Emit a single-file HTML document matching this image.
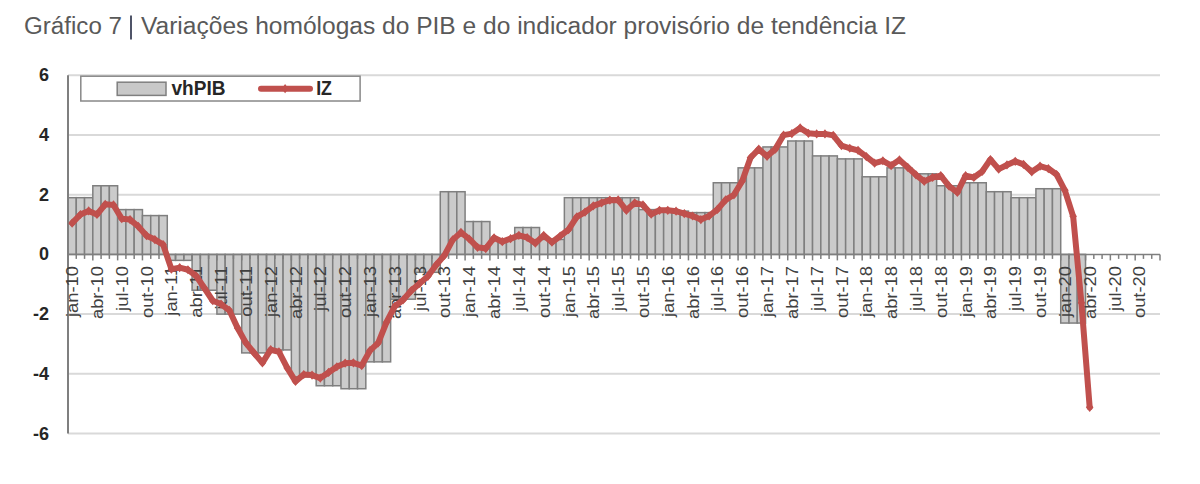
<!DOCTYPE html><html><head><meta charset="utf-8"><style>html,body{margin:0;padding:0;background:#fff;}body{width:1200px;height:484px;overflow:hidden;position:relative;}svg{position:absolute;left:0;top:0;}text{font-family:"Liberation Sans",sans-serif;}</style></head><body>
<svg width="1200" height="484" viewBox="0 0 1200 484">
<text x="24" y="34.2" font-size="23" fill="#595959" textLength="98" lengthAdjust="spacingAndGlyphs">Gráfico 7</text>
<rect x="130" y="15.5" width="2" height="24" fill="#4f5468"/>
<text x="141" y="34.2" font-size="23" fill="#595959" textLength="765" lengthAdjust="spacingAndGlyphs">Variações homólogas do PIB e do indicador provisório de tendência IZ</text>
<line x1="68.0" x2="1160.0" y1="75.30" y2="75.30" stroke="#d9d9d9" stroke-width="2"/>
<line x1="68.0" x2="1160.0" y1="135.00" y2="135.00" stroke="#d9d9d9" stroke-width="2"/>
<line x1="68.0" x2="1160.0" y1="194.70" y2="194.70" stroke="#d9d9d9" stroke-width="2"/>
<line x1="68.0" x2="1160.0" y1="314.10" y2="314.10" stroke="#d9d9d9" stroke-width="2"/>
<line x1="68.0" x2="1160.0" y1="373.80" y2="373.80" stroke="#d9d9d9" stroke-width="2"/>
<line x1="68.0" x2="1160.0" y1="433.50" y2="433.50" stroke="#d9d9d9" stroke-width="2"/>
<text x="49" y="81.30" font-size="18" font-weight="bold" fill="#262626" text-anchor="end">6</text>
<text x="49" y="141.00" font-size="18" font-weight="bold" fill="#262626" text-anchor="end">4</text>
<text x="49" y="200.70" font-size="18" font-weight="bold" fill="#262626" text-anchor="end">2</text>
<text x="49" y="260.40" font-size="18" font-weight="bold" fill="#262626" text-anchor="end">0</text>
<text x="49" y="320.10" font-size="18" font-weight="bold" fill="#262626" text-anchor="end">-2</text>
<text x="49" y="379.80" font-size="18" font-weight="bold" fill="#262626" text-anchor="end">-4</text>
<text x="49" y="439.50" font-size="18" font-weight="bold" fill="#262626" text-anchor="end">-6</text>
<rect x="68.00" y="197.69" width="8.27" height="56.72" fill="#cbcbcb" stroke="#7f7f7f" stroke-width="1.5"/>
<rect x="76.27" y="197.69" width="8.27" height="56.72" fill="#cbcbcb" stroke="#7f7f7f" stroke-width="1.5"/>
<rect x="84.55" y="197.69" width="8.27" height="56.72" fill="#cbcbcb" stroke="#7f7f7f" stroke-width="1.5"/>
<rect x="92.82" y="185.75" width="8.27" height="68.66" fill="#cbcbcb" stroke="#7f7f7f" stroke-width="1.5"/>
<rect x="101.09" y="185.75" width="8.27" height="68.66" fill="#cbcbcb" stroke="#7f7f7f" stroke-width="1.5"/>
<rect x="109.36" y="185.75" width="8.27" height="68.66" fill="#cbcbcb" stroke="#7f7f7f" stroke-width="1.5"/>
<rect x="117.64" y="209.62" width="8.27" height="44.78" fill="#cbcbcb" stroke="#7f7f7f" stroke-width="1.5"/>
<rect x="125.91" y="209.62" width="8.27" height="44.78" fill="#cbcbcb" stroke="#7f7f7f" stroke-width="1.5"/>
<rect x="134.18" y="209.62" width="8.27" height="44.78" fill="#cbcbcb" stroke="#7f7f7f" stroke-width="1.5"/>
<rect x="142.45" y="215.59" width="8.27" height="38.81" fill="#cbcbcb" stroke="#7f7f7f" stroke-width="1.5"/>
<rect x="150.73" y="215.59" width="8.27" height="38.81" fill="#cbcbcb" stroke="#7f7f7f" stroke-width="1.5"/>
<rect x="159.00" y="215.59" width="8.27" height="38.81" fill="#cbcbcb" stroke="#7f7f7f" stroke-width="1.5"/>
<rect x="167.27" y="254.40" width="8.27" height="5.97" fill="#cbcbcb" stroke="#7f7f7f" stroke-width="1.5"/>
<rect x="175.55" y="254.40" width="8.27" height="5.97" fill="#cbcbcb" stroke="#7f7f7f" stroke-width="1.5"/>
<rect x="183.82" y="254.40" width="8.27" height="5.97" fill="#cbcbcb" stroke="#7f7f7f" stroke-width="1.5"/>
<rect x="192.09" y="254.40" width="8.27" height="35.82" fill="#cbcbcb" stroke="#7f7f7f" stroke-width="1.5"/>
<rect x="200.36" y="254.40" width="8.27" height="35.82" fill="#cbcbcb" stroke="#7f7f7f" stroke-width="1.5"/>
<rect x="208.64" y="254.40" width="8.27" height="35.82" fill="#cbcbcb" stroke="#7f7f7f" stroke-width="1.5"/>
<rect x="216.91" y="254.40" width="8.27" height="59.70" fill="#cbcbcb" stroke="#7f7f7f" stroke-width="1.5"/>
<rect x="225.18" y="254.40" width="8.27" height="59.70" fill="#cbcbcb" stroke="#7f7f7f" stroke-width="1.5"/>
<rect x="233.45" y="254.40" width="8.27" height="59.70" fill="#cbcbcb" stroke="#7f7f7f" stroke-width="1.5"/>
<rect x="241.73" y="254.40" width="8.27" height="98.50" fill="#cbcbcb" stroke="#7f7f7f" stroke-width="1.5"/>
<rect x="250.00" y="254.40" width="8.27" height="98.50" fill="#cbcbcb" stroke="#7f7f7f" stroke-width="1.5"/>
<rect x="258.27" y="254.40" width="8.27" height="98.50" fill="#cbcbcb" stroke="#7f7f7f" stroke-width="1.5"/>
<rect x="266.55" y="254.40" width="8.27" height="95.52" fill="#cbcbcb" stroke="#7f7f7f" stroke-width="1.5"/>
<rect x="274.82" y="254.40" width="8.27" height="95.52" fill="#cbcbcb" stroke="#7f7f7f" stroke-width="1.5"/>
<rect x="283.09" y="254.40" width="8.27" height="95.52" fill="#cbcbcb" stroke="#7f7f7f" stroke-width="1.5"/>
<rect x="291.36" y="254.40" width="8.27" height="122.38" fill="#cbcbcb" stroke="#7f7f7f" stroke-width="1.5"/>
<rect x="299.64" y="254.40" width="8.27" height="122.38" fill="#cbcbcb" stroke="#7f7f7f" stroke-width="1.5"/>
<rect x="307.91" y="254.40" width="8.27" height="122.38" fill="#cbcbcb" stroke="#7f7f7f" stroke-width="1.5"/>
<rect x="316.18" y="254.40" width="8.27" height="131.34" fill="#cbcbcb" stroke="#7f7f7f" stroke-width="1.5"/>
<rect x="324.45" y="254.40" width="8.27" height="131.34" fill="#cbcbcb" stroke="#7f7f7f" stroke-width="1.5"/>
<rect x="332.73" y="254.40" width="8.27" height="131.34" fill="#cbcbcb" stroke="#7f7f7f" stroke-width="1.5"/>
<rect x="341.00" y="254.40" width="8.27" height="134.33" fill="#cbcbcb" stroke="#7f7f7f" stroke-width="1.5"/>
<rect x="349.27" y="254.40" width="8.27" height="134.33" fill="#cbcbcb" stroke="#7f7f7f" stroke-width="1.5"/>
<rect x="357.55" y="254.40" width="8.27" height="134.33" fill="#cbcbcb" stroke="#7f7f7f" stroke-width="1.5"/>
<rect x="365.82" y="254.40" width="8.27" height="107.46" fill="#cbcbcb" stroke="#7f7f7f" stroke-width="1.5"/>
<rect x="374.09" y="254.40" width="8.27" height="107.46" fill="#cbcbcb" stroke="#7f7f7f" stroke-width="1.5"/>
<rect x="382.36" y="254.40" width="8.27" height="107.46" fill="#cbcbcb" stroke="#7f7f7f" stroke-width="1.5"/>
<rect x="390.64" y="254.40" width="8.27" height="44.78" fill="#cbcbcb" stroke="#7f7f7f" stroke-width="1.5"/>
<rect x="398.91" y="254.40" width="8.27" height="44.78" fill="#cbcbcb" stroke="#7f7f7f" stroke-width="1.5"/>
<rect x="407.18" y="254.40" width="8.27" height="44.78" fill="#cbcbcb" stroke="#7f7f7f" stroke-width="1.5"/>
<rect x="415.45" y="254.40" width="8.27" height="17.91" fill="#cbcbcb" stroke="#7f7f7f" stroke-width="1.5"/>
<rect x="423.73" y="254.40" width="8.27" height="17.91" fill="#cbcbcb" stroke="#7f7f7f" stroke-width="1.5"/>
<rect x="432.00" y="254.40" width="8.27" height="17.91" fill="#cbcbcb" stroke="#7f7f7f" stroke-width="1.5"/>
<rect x="440.27" y="191.72" width="8.27" height="62.69" fill="#cbcbcb" stroke="#7f7f7f" stroke-width="1.5"/>
<rect x="448.55" y="191.72" width="8.27" height="62.69" fill="#cbcbcb" stroke="#7f7f7f" stroke-width="1.5"/>
<rect x="456.82" y="191.72" width="8.27" height="62.69" fill="#cbcbcb" stroke="#7f7f7f" stroke-width="1.5"/>
<rect x="465.09" y="221.56" width="8.27" height="32.84" fill="#cbcbcb" stroke="#7f7f7f" stroke-width="1.5"/>
<rect x="473.36" y="221.56" width="8.27" height="32.84" fill="#cbcbcb" stroke="#7f7f7f" stroke-width="1.5"/>
<rect x="481.64" y="221.56" width="8.27" height="32.84" fill="#cbcbcb" stroke="#7f7f7f" stroke-width="1.5"/>
<rect x="489.91" y="239.47" width="8.27" height="14.93" fill="#cbcbcb" stroke="#7f7f7f" stroke-width="1.5"/>
<rect x="498.18" y="239.47" width="8.27" height="14.93" fill="#cbcbcb" stroke="#7f7f7f" stroke-width="1.5"/>
<rect x="506.45" y="239.47" width="8.27" height="14.93" fill="#cbcbcb" stroke="#7f7f7f" stroke-width="1.5"/>
<rect x="514.73" y="227.53" width="8.27" height="26.87" fill="#cbcbcb" stroke="#7f7f7f" stroke-width="1.5"/>
<rect x="523.00" y="227.53" width="8.27" height="26.87" fill="#cbcbcb" stroke="#7f7f7f" stroke-width="1.5"/>
<rect x="531.27" y="227.53" width="8.27" height="26.87" fill="#cbcbcb" stroke="#7f7f7f" stroke-width="1.5"/>
<rect x="539.55" y="239.47" width="8.27" height="14.93" fill="#cbcbcb" stroke="#7f7f7f" stroke-width="1.5"/>
<rect x="547.82" y="239.47" width="8.27" height="14.93" fill="#cbcbcb" stroke="#7f7f7f" stroke-width="1.5"/>
<rect x="556.09" y="239.47" width="8.27" height="14.93" fill="#cbcbcb" stroke="#7f7f7f" stroke-width="1.5"/>
<rect x="564.36" y="197.69" width="8.27" height="56.72" fill="#cbcbcb" stroke="#7f7f7f" stroke-width="1.5"/>
<rect x="572.64" y="197.69" width="8.27" height="56.72" fill="#cbcbcb" stroke="#7f7f7f" stroke-width="1.5"/>
<rect x="580.91" y="197.69" width="8.27" height="56.72" fill="#cbcbcb" stroke="#7f7f7f" stroke-width="1.5"/>
<rect x="589.18" y="197.69" width="8.27" height="56.72" fill="#cbcbcb" stroke="#7f7f7f" stroke-width="1.5"/>
<rect x="597.45" y="197.69" width="8.27" height="56.72" fill="#cbcbcb" stroke="#7f7f7f" stroke-width="1.5"/>
<rect x="605.73" y="197.69" width="8.27" height="56.72" fill="#cbcbcb" stroke="#7f7f7f" stroke-width="1.5"/>
<rect x="614.00" y="197.69" width="8.27" height="56.72" fill="#cbcbcb" stroke="#7f7f7f" stroke-width="1.5"/>
<rect x="622.27" y="197.69" width="8.27" height="56.72" fill="#cbcbcb" stroke="#7f7f7f" stroke-width="1.5"/>
<rect x="630.55" y="197.69" width="8.27" height="56.72" fill="#cbcbcb" stroke="#7f7f7f" stroke-width="1.5"/>
<rect x="638.82" y="209.62" width="8.27" height="44.78" fill="#cbcbcb" stroke="#7f7f7f" stroke-width="1.5"/>
<rect x="647.09" y="209.62" width="8.27" height="44.78" fill="#cbcbcb" stroke="#7f7f7f" stroke-width="1.5"/>
<rect x="655.36" y="209.62" width="8.27" height="44.78" fill="#cbcbcb" stroke="#7f7f7f" stroke-width="1.5"/>
<rect x="663.64" y="211.12" width="8.27" height="43.28" fill="#cbcbcb" stroke="#7f7f7f" stroke-width="1.5"/>
<rect x="671.91" y="211.12" width="8.27" height="43.28" fill="#cbcbcb" stroke="#7f7f7f" stroke-width="1.5"/>
<rect x="680.18" y="211.12" width="8.27" height="43.28" fill="#cbcbcb" stroke="#7f7f7f" stroke-width="1.5"/>
<rect x="688.45" y="212.61" width="8.27" height="41.79" fill="#cbcbcb" stroke="#7f7f7f" stroke-width="1.5"/>
<rect x="696.73" y="212.61" width="8.27" height="41.79" fill="#cbcbcb" stroke="#7f7f7f" stroke-width="1.5"/>
<rect x="705.00" y="212.61" width="8.27" height="41.79" fill="#cbcbcb" stroke="#7f7f7f" stroke-width="1.5"/>
<rect x="713.27" y="182.76" width="8.27" height="71.64" fill="#cbcbcb" stroke="#7f7f7f" stroke-width="1.5"/>
<rect x="721.55" y="182.76" width="8.27" height="71.64" fill="#cbcbcb" stroke="#7f7f7f" stroke-width="1.5"/>
<rect x="729.82" y="182.76" width="8.27" height="71.64" fill="#cbcbcb" stroke="#7f7f7f" stroke-width="1.5"/>
<rect x="738.09" y="167.84" width="8.27" height="86.56" fill="#cbcbcb" stroke="#7f7f7f" stroke-width="1.5"/>
<rect x="746.36" y="167.84" width="8.27" height="86.56" fill="#cbcbcb" stroke="#7f7f7f" stroke-width="1.5"/>
<rect x="754.64" y="167.84" width="8.27" height="86.56" fill="#cbcbcb" stroke="#7f7f7f" stroke-width="1.5"/>
<rect x="762.91" y="146.94" width="8.27" height="107.46" fill="#cbcbcb" stroke="#7f7f7f" stroke-width="1.5"/>
<rect x="771.18" y="146.94" width="8.27" height="107.46" fill="#cbcbcb" stroke="#7f7f7f" stroke-width="1.5"/>
<rect x="779.45" y="146.94" width="8.27" height="107.46" fill="#cbcbcb" stroke="#7f7f7f" stroke-width="1.5"/>
<rect x="787.73" y="140.97" width="8.27" height="113.43" fill="#cbcbcb" stroke="#7f7f7f" stroke-width="1.5"/>
<rect x="796.00" y="140.97" width="8.27" height="113.43" fill="#cbcbcb" stroke="#7f7f7f" stroke-width="1.5"/>
<rect x="804.27" y="140.97" width="8.27" height="113.43" fill="#cbcbcb" stroke="#7f7f7f" stroke-width="1.5"/>
<rect x="812.55" y="155.90" width="8.27" height="98.50" fill="#cbcbcb" stroke="#7f7f7f" stroke-width="1.5"/>
<rect x="820.82" y="155.90" width="8.27" height="98.50" fill="#cbcbcb" stroke="#7f7f7f" stroke-width="1.5"/>
<rect x="829.09" y="155.90" width="8.27" height="98.50" fill="#cbcbcb" stroke="#7f7f7f" stroke-width="1.5"/>
<rect x="837.36" y="158.88" width="8.27" height="95.52" fill="#cbcbcb" stroke="#7f7f7f" stroke-width="1.5"/>
<rect x="845.64" y="158.88" width="8.27" height="95.52" fill="#cbcbcb" stroke="#7f7f7f" stroke-width="1.5"/>
<rect x="853.91" y="158.88" width="8.27" height="95.52" fill="#cbcbcb" stroke="#7f7f7f" stroke-width="1.5"/>
<rect x="862.18" y="176.79" width="8.27" height="77.61" fill="#cbcbcb" stroke="#7f7f7f" stroke-width="1.5"/>
<rect x="870.45" y="176.79" width="8.27" height="77.61" fill="#cbcbcb" stroke="#7f7f7f" stroke-width="1.5"/>
<rect x="878.73" y="176.79" width="8.27" height="77.61" fill="#cbcbcb" stroke="#7f7f7f" stroke-width="1.5"/>
<rect x="887.00" y="167.84" width="8.27" height="86.56" fill="#cbcbcb" stroke="#7f7f7f" stroke-width="1.5"/>
<rect x="895.27" y="167.84" width="8.27" height="86.56" fill="#cbcbcb" stroke="#7f7f7f" stroke-width="1.5"/>
<rect x="903.55" y="167.84" width="8.27" height="86.56" fill="#cbcbcb" stroke="#7f7f7f" stroke-width="1.5"/>
<rect x="911.82" y="173.81" width="8.27" height="80.59" fill="#cbcbcb" stroke="#7f7f7f" stroke-width="1.5"/>
<rect x="920.09" y="173.81" width="8.27" height="80.59" fill="#cbcbcb" stroke="#7f7f7f" stroke-width="1.5"/>
<rect x="928.36" y="173.81" width="8.27" height="80.59" fill="#cbcbcb" stroke="#7f7f7f" stroke-width="1.5"/>
<rect x="936.64" y="185.75" width="8.27" height="68.66" fill="#cbcbcb" stroke="#7f7f7f" stroke-width="1.5"/>
<rect x="944.91" y="185.75" width="8.27" height="68.66" fill="#cbcbcb" stroke="#7f7f7f" stroke-width="1.5"/>
<rect x="953.18" y="185.75" width="8.27" height="68.66" fill="#cbcbcb" stroke="#7f7f7f" stroke-width="1.5"/>
<rect x="961.45" y="182.76" width="8.27" height="71.64" fill="#cbcbcb" stroke="#7f7f7f" stroke-width="1.5"/>
<rect x="969.73" y="182.76" width="8.27" height="71.64" fill="#cbcbcb" stroke="#7f7f7f" stroke-width="1.5"/>
<rect x="978.00" y="182.76" width="8.27" height="71.64" fill="#cbcbcb" stroke="#7f7f7f" stroke-width="1.5"/>
<rect x="986.27" y="191.72" width="8.27" height="62.69" fill="#cbcbcb" stroke="#7f7f7f" stroke-width="1.5"/>
<rect x="994.55" y="191.72" width="8.27" height="62.69" fill="#cbcbcb" stroke="#7f7f7f" stroke-width="1.5"/>
<rect x="1002.82" y="191.72" width="8.27" height="62.69" fill="#cbcbcb" stroke="#7f7f7f" stroke-width="1.5"/>
<rect x="1011.09" y="197.69" width="8.27" height="56.72" fill="#cbcbcb" stroke="#7f7f7f" stroke-width="1.5"/>
<rect x="1019.36" y="197.69" width="8.27" height="56.72" fill="#cbcbcb" stroke="#7f7f7f" stroke-width="1.5"/>
<rect x="1027.64" y="197.69" width="8.27" height="56.72" fill="#cbcbcb" stroke="#7f7f7f" stroke-width="1.5"/>
<rect x="1035.91" y="188.73" width="8.27" height="65.67" fill="#cbcbcb" stroke="#7f7f7f" stroke-width="1.5"/>
<rect x="1044.18" y="188.73" width="8.27" height="65.67" fill="#cbcbcb" stroke="#7f7f7f" stroke-width="1.5"/>
<rect x="1052.45" y="188.73" width="8.27" height="65.67" fill="#cbcbcb" stroke="#7f7f7f" stroke-width="1.5"/>
<rect x="1060.73" y="254.40" width="8.27" height="68.66" fill="#cbcbcb" stroke="#7f7f7f" stroke-width="1.5"/>
<rect x="1069.00" y="254.40" width="8.27" height="68.66" fill="#cbcbcb" stroke="#7f7f7f" stroke-width="1.5"/>
<rect x="1077.27" y="254.40" width="8.27" height="68.66" fill="#cbcbcb" stroke="#7f7f7f" stroke-width="1.5"/>
<line x1="68.0" x2="1160.0" y1="254.4" y2="254.4" stroke="#7f7f7f" stroke-width="1.5"/>
<line x1="76.27" x2="76.27" y1="254.4" y2="258.9" stroke="#7f7f7f" stroke-width="1.5"/>
<line x1="84.55" x2="84.55" y1="254.4" y2="258.9" stroke="#7f7f7f" stroke-width="1.5"/>
<line x1="92.82" x2="92.82" y1="254.4" y2="260.4" stroke="#7f7f7f" stroke-width="1.5"/>
<line x1="101.09" x2="101.09" y1="254.4" y2="258.9" stroke="#7f7f7f" stroke-width="1.5"/>
<line x1="109.36" x2="109.36" y1="254.4" y2="258.9" stroke="#7f7f7f" stroke-width="1.5"/>
<line x1="117.64" x2="117.64" y1="254.4" y2="260.4" stroke="#7f7f7f" stroke-width="1.5"/>
<line x1="125.91" x2="125.91" y1="254.4" y2="258.9" stroke="#7f7f7f" stroke-width="1.5"/>
<line x1="134.18" x2="134.18" y1="254.4" y2="258.9" stroke="#7f7f7f" stroke-width="1.5"/>
<line x1="142.45" x2="142.45" y1="254.4" y2="260.4" stroke="#7f7f7f" stroke-width="1.5"/>
<line x1="150.73" x2="150.73" y1="254.4" y2="258.9" stroke="#7f7f7f" stroke-width="1.5"/>
<line x1="159.00" x2="159.00" y1="254.4" y2="258.9" stroke="#7f7f7f" stroke-width="1.5"/>
<line x1="167.27" x2="167.27" y1="254.4" y2="260.4" stroke="#7f7f7f" stroke-width="1.5"/>
<line x1="175.55" x2="175.55" y1="254.4" y2="258.9" stroke="#7f7f7f" stroke-width="1.5"/>
<line x1="183.82" x2="183.82" y1="254.4" y2="258.9" stroke="#7f7f7f" stroke-width="1.5"/>
<line x1="192.09" x2="192.09" y1="254.4" y2="260.4" stroke="#7f7f7f" stroke-width="1.5"/>
<line x1="200.36" x2="200.36" y1="254.4" y2="258.9" stroke="#7f7f7f" stroke-width="1.5"/>
<line x1="208.64" x2="208.64" y1="254.4" y2="258.9" stroke="#7f7f7f" stroke-width="1.5"/>
<line x1="216.91" x2="216.91" y1="254.4" y2="260.4" stroke="#7f7f7f" stroke-width="1.5"/>
<line x1="225.18" x2="225.18" y1="254.4" y2="258.9" stroke="#7f7f7f" stroke-width="1.5"/>
<line x1="233.45" x2="233.45" y1="254.4" y2="258.9" stroke="#7f7f7f" stroke-width="1.5"/>
<line x1="241.73" x2="241.73" y1="254.4" y2="260.4" stroke="#7f7f7f" stroke-width="1.5"/>
<line x1="250.00" x2="250.00" y1="254.4" y2="258.9" stroke="#7f7f7f" stroke-width="1.5"/>
<line x1="258.27" x2="258.27" y1="254.4" y2="258.9" stroke="#7f7f7f" stroke-width="1.5"/>
<line x1="266.55" x2="266.55" y1="254.4" y2="260.4" stroke="#7f7f7f" stroke-width="1.5"/>
<line x1="274.82" x2="274.82" y1="254.4" y2="258.9" stroke="#7f7f7f" stroke-width="1.5"/>
<line x1="283.09" x2="283.09" y1="254.4" y2="258.9" stroke="#7f7f7f" stroke-width="1.5"/>
<line x1="291.36" x2="291.36" y1="254.4" y2="260.4" stroke="#7f7f7f" stroke-width="1.5"/>
<line x1="299.64" x2="299.64" y1="254.4" y2="258.9" stroke="#7f7f7f" stroke-width="1.5"/>
<line x1="307.91" x2="307.91" y1="254.4" y2="258.9" stroke="#7f7f7f" stroke-width="1.5"/>
<line x1="316.18" x2="316.18" y1="254.4" y2="260.4" stroke="#7f7f7f" stroke-width="1.5"/>
<line x1="324.45" x2="324.45" y1="254.4" y2="258.9" stroke="#7f7f7f" stroke-width="1.5"/>
<line x1="332.73" x2="332.73" y1="254.4" y2="258.9" stroke="#7f7f7f" stroke-width="1.5"/>
<line x1="341.00" x2="341.00" y1="254.4" y2="260.4" stroke="#7f7f7f" stroke-width="1.5"/>
<line x1="349.27" x2="349.27" y1="254.4" y2="258.9" stroke="#7f7f7f" stroke-width="1.5"/>
<line x1="357.55" x2="357.55" y1="254.4" y2="258.9" stroke="#7f7f7f" stroke-width="1.5"/>
<line x1="365.82" x2="365.82" y1="254.4" y2="260.4" stroke="#7f7f7f" stroke-width="1.5"/>
<line x1="374.09" x2="374.09" y1="254.4" y2="258.9" stroke="#7f7f7f" stroke-width="1.5"/>
<line x1="382.36" x2="382.36" y1="254.4" y2="258.9" stroke="#7f7f7f" stroke-width="1.5"/>
<line x1="390.64" x2="390.64" y1="254.4" y2="260.4" stroke="#7f7f7f" stroke-width="1.5"/>
<line x1="398.91" x2="398.91" y1="254.4" y2="258.9" stroke="#7f7f7f" stroke-width="1.5"/>
<line x1="407.18" x2="407.18" y1="254.4" y2="258.9" stroke="#7f7f7f" stroke-width="1.5"/>
<line x1="415.45" x2="415.45" y1="254.4" y2="260.4" stroke="#7f7f7f" stroke-width="1.5"/>
<line x1="423.73" x2="423.73" y1="254.4" y2="258.9" stroke="#7f7f7f" stroke-width="1.5"/>
<line x1="432.00" x2="432.00" y1="254.4" y2="258.9" stroke="#7f7f7f" stroke-width="1.5"/>
<line x1="440.27" x2="440.27" y1="254.4" y2="260.4" stroke="#7f7f7f" stroke-width="1.5"/>
<line x1="448.55" x2="448.55" y1="254.4" y2="258.9" stroke="#7f7f7f" stroke-width="1.5"/>
<line x1="456.82" x2="456.82" y1="254.4" y2="258.9" stroke="#7f7f7f" stroke-width="1.5"/>
<line x1="465.09" x2="465.09" y1="254.4" y2="260.4" stroke="#7f7f7f" stroke-width="1.5"/>
<line x1="473.36" x2="473.36" y1="254.4" y2="258.9" stroke="#7f7f7f" stroke-width="1.5"/>
<line x1="481.64" x2="481.64" y1="254.4" y2="258.9" stroke="#7f7f7f" stroke-width="1.5"/>
<line x1="489.91" x2="489.91" y1="254.4" y2="260.4" stroke="#7f7f7f" stroke-width="1.5"/>
<line x1="498.18" x2="498.18" y1="254.4" y2="258.9" stroke="#7f7f7f" stroke-width="1.5"/>
<line x1="506.45" x2="506.45" y1="254.4" y2="258.9" stroke="#7f7f7f" stroke-width="1.5"/>
<line x1="514.73" x2="514.73" y1="254.4" y2="260.4" stroke="#7f7f7f" stroke-width="1.5"/>
<line x1="523.00" x2="523.00" y1="254.4" y2="258.9" stroke="#7f7f7f" stroke-width="1.5"/>
<line x1="531.27" x2="531.27" y1="254.4" y2="258.9" stroke="#7f7f7f" stroke-width="1.5"/>
<line x1="539.55" x2="539.55" y1="254.4" y2="260.4" stroke="#7f7f7f" stroke-width="1.5"/>
<line x1="547.82" x2="547.82" y1="254.4" y2="258.9" stroke="#7f7f7f" stroke-width="1.5"/>
<line x1="556.09" x2="556.09" y1="254.4" y2="258.9" stroke="#7f7f7f" stroke-width="1.5"/>
<line x1="564.36" x2="564.36" y1="254.4" y2="260.4" stroke="#7f7f7f" stroke-width="1.5"/>
<line x1="572.64" x2="572.64" y1="254.4" y2="258.9" stroke="#7f7f7f" stroke-width="1.5"/>
<line x1="580.91" x2="580.91" y1="254.4" y2="258.9" stroke="#7f7f7f" stroke-width="1.5"/>
<line x1="589.18" x2="589.18" y1="254.4" y2="260.4" stroke="#7f7f7f" stroke-width="1.5"/>
<line x1="597.45" x2="597.45" y1="254.4" y2="258.9" stroke="#7f7f7f" stroke-width="1.5"/>
<line x1="605.73" x2="605.73" y1="254.4" y2="258.9" stroke="#7f7f7f" stroke-width="1.5"/>
<line x1="614.00" x2="614.00" y1="254.4" y2="260.4" stroke="#7f7f7f" stroke-width="1.5"/>
<line x1="622.27" x2="622.27" y1="254.4" y2="258.9" stroke="#7f7f7f" stroke-width="1.5"/>
<line x1="630.55" x2="630.55" y1="254.4" y2="258.9" stroke="#7f7f7f" stroke-width="1.5"/>
<line x1="638.82" x2="638.82" y1="254.4" y2="260.4" stroke="#7f7f7f" stroke-width="1.5"/>
<line x1="647.09" x2="647.09" y1="254.4" y2="258.9" stroke="#7f7f7f" stroke-width="1.5"/>
<line x1="655.36" x2="655.36" y1="254.4" y2="258.9" stroke="#7f7f7f" stroke-width="1.5"/>
<line x1="663.64" x2="663.64" y1="254.4" y2="260.4" stroke="#7f7f7f" stroke-width="1.5"/>
<line x1="671.91" x2="671.91" y1="254.4" y2="258.9" stroke="#7f7f7f" stroke-width="1.5"/>
<line x1="680.18" x2="680.18" y1="254.4" y2="258.9" stroke="#7f7f7f" stroke-width="1.5"/>
<line x1="688.45" x2="688.45" y1="254.4" y2="260.4" stroke="#7f7f7f" stroke-width="1.5"/>
<line x1="696.73" x2="696.73" y1="254.4" y2="258.9" stroke="#7f7f7f" stroke-width="1.5"/>
<line x1="705.00" x2="705.00" y1="254.4" y2="258.9" stroke="#7f7f7f" stroke-width="1.5"/>
<line x1="713.27" x2="713.27" y1="254.4" y2="260.4" stroke="#7f7f7f" stroke-width="1.5"/>
<line x1="721.55" x2="721.55" y1="254.4" y2="258.9" stroke="#7f7f7f" stroke-width="1.5"/>
<line x1="729.82" x2="729.82" y1="254.4" y2="258.9" stroke="#7f7f7f" stroke-width="1.5"/>
<line x1="738.09" x2="738.09" y1="254.4" y2="260.4" stroke="#7f7f7f" stroke-width="1.5"/>
<line x1="746.36" x2="746.36" y1="254.4" y2="258.9" stroke="#7f7f7f" stroke-width="1.5"/>
<line x1="754.64" x2="754.64" y1="254.4" y2="258.9" stroke="#7f7f7f" stroke-width="1.5"/>
<line x1="762.91" x2="762.91" y1="254.4" y2="260.4" stroke="#7f7f7f" stroke-width="1.5"/>
<line x1="771.18" x2="771.18" y1="254.4" y2="258.9" stroke="#7f7f7f" stroke-width="1.5"/>
<line x1="779.45" x2="779.45" y1="254.4" y2="258.9" stroke="#7f7f7f" stroke-width="1.5"/>
<line x1="787.73" x2="787.73" y1="254.4" y2="260.4" stroke="#7f7f7f" stroke-width="1.5"/>
<line x1="796.00" x2="796.00" y1="254.4" y2="258.9" stroke="#7f7f7f" stroke-width="1.5"/>
<line x1="804.27" x2="804.27" y1="254.4" y2="258.9" stroke="#7f7f7f" stroke-width="1.5"/>
<line x1="812.55" x2="812.55" y1="254.4" y2="260.4" stroke="#7f7f7f" stroke-width="1.5"/>
<line x1="820.82" x2="820.82" y1="254.4" y2="258.9" stroke="#7f7f7f" stroke-width="1.5"/>
<line x1="829.09" x2="829.09" y1="254.4" y2="258.9" stroke="#7f7f7f" stroke-width="1.5"/>
<line x1="837.36" x2="837.36" y1="254.4" y2="260.4" stroke="#7f7f7f" stroke-width="1.5"/>
<line x1="845.64" x2="845.64" y1="254.4" y2="258.9" stroke="#7f7f7f" stroke-width="1.5"/>
<line x1="853.91" x2="853.91" y1="254.4" y2="258.9" stroke="#7f7f7f" stroke-width="1.5"/>
<line x1="862.18" x2="862.18" y1="254.4" y2="260.4" stroke="#7f7f7f" stroke-width="1.5"/>
<line x1="870.45" x2="870.45" y1="254.4" y2="258.9" stroke="#7f7f7f" stroke-width="1.5"/>
<line x1="878.73" x2="878.73" y1="254.4" y2="258.9" stroke="#7f7f7f" stroke-width="1.5"/>
<line x1="887.00" x2="887.00" y1="254.4" y2="260.4" stroke="#7f7f7f" stroke-width="1.5"/>
<line x1="895.27" x2="895.27" y1="254.4" y2="258.9" stroke="#7f7f7f" stroke-width="1.5"/>
<line x1="903.55" x2="903.55" y1="254.4" y2="258.9" stroke="#7f7f7f" stroke-width="1.5"/>
<line x1="911.82" x2="911.82" y1="254.4" y2="260.4" stroke="#7f7f7f" stroke-width="1.5"/>
<line x1="920.09" x2="920.09" y1="254.4" y2="258.9" stroke="#7f7f7f" stroke-width="1.5"/>
<line x1="928.36" x2="928.36" y1="254.4" y2="258.9" stroke="#7f7f7f" stroke-width="1.5"/>
<line x1="936.64" x2="936.64" y1="254.4" y2="260.4" stroke="#7f7f7f" stroke-width="1.5"/>
<line x1="944.91" x2="944.91" y1="254.4" y2="258.9" stroke="#7f7f7f" stroke-width="1.5"/>
<line x1="953.18" x2="953.18" y1="254.4" y2="258.9" stroke="#7f7f7f" stroke-width="1.5"/>
<line x1="961.45" x2="961.45" y1="254.4" y2="260.4" stroke="#7f7f7f" stroke-width="1.5"/>
<line x1="969.73" x2="969.73" y1="254.4" y2="258.9" stroke="#7f7f7f" stroke-width="1.5"/>
<line x1="978.00" x2="978.00" y1="254.4" y2="258.9" stroke="#7f7f7f" stroke-width="1.5"/>
<line x1="986.27" x2="986.27" y1="254.4" y2="260.4" stroke="#7f7f7f" stroke-width="1.5"/>
<line x1="994.55" x2="994.55" y1="254.4" y2="258.9" stroke="#7f7f7f" stroke-width="1.5"/>
<line x1="1002.82" x2="1002.82" y1="254.4" y2="258.9" stroke="#7f7f7f" stroke-width="1.5"/>
<line x1="1011.09" x2="1011.09" y1="254.4" y2="260.4" stroke="#7f7f7f" stroke-width="1.5"/>
<line x1="1019.36" x2="1019.36" y1="254.4" y2="258.9" stroke="#7f7f7f" stroke-width="1.5"/>
<line x1="1027.64" x2="1027.64" y1="254.4" y2="258.9" stroke="#7f7f7f" stroke-width="1.5"/>
<line x1="1035.91" x2="1035.91" y1="254.4" y2="260.4" stroke="#7f7f7f" stroke-width="1.5"/>
<line x1="1044.18" x2="1044.18" y1="254.4" y2="258.9" stroke="#7f7f7f" stroke-width="1.5"/>
<line x1="1052.45" x2="1052.45" y1="254.4" y2="258.9" stroke="#7f7f7f" stroke-width="1.5"/>
<line x1="1060.73" x2="1060.73" y1="254.4" y2="260.4" stroke="#7f7f7f" stroke-width="1.5"/>
<line x1="1069.00" x2="1069.00" y1="254.4" y2="258.9" stroke="#7f7f7f" stroke-width="1.5"/>
<line x1="1077.27" x2="1077.27" y1="254.4" y2="258.9" stroke="#7f7f7f" stroke-width="1.5"/>
<line x1="1085.55" x2="1085.55" y1="254.4" y2="260.4" stroke="#7f7f7f" stroke-width="1.5"/>
<line x1="1093.82" x2="1093.82" y1="254.4" y2="258.9" stroke="#7f7f7f" stroke-width="1.5"/>
<line x1="1102.09" x2="1102.09" y1="254.4" y2="258.9" stroke="#7f7f7f" stroke-width="1.5"/>
<line x1="1110.36" x2="1110.36" y1="254.4" y2="260.4" stroke="#7f7f7f" stroke-width="1.5"/>
<line x1="1118.64" x2="1118.64" y1="254.4" y2="258.9" stroke="#7f7f7f" stroke-width="1.5"/>
<line x1="1126.91" x2="1126.91" y1="254.4" y2="258.9" stroke="#7f7f7f" stroke-width="1.5"/>
<line x1="1135.18" x2="1135.18" y1="254.4" y2="260.4" stroke="#7f7f7f" stroke-width="1.5"/>
<line x1="1143.45" x2="1143.45" y1="254.4" y2="258.9" stroke="#7f7f7f" stroke-width="1.5"/>
<line x1="1151.73" x2="1151.73" y1="254.4" y2="258.9" stroke="#7f7f7f" stroke-width="1.5"/>
<line x1="1160.00" x2="1160.00" y1="254.4" y2="260.4" stroke="#7f7f7f" stroke-width="1.5"/>
<line x1="68.0" x2="68.0" y1="75.30" y2="433.50" stroke="#7f7f7f" stroke-width="2"/>
<text transform="translate(78.14,266) rotate(-90) scale(1.08,1)" x="0" y="0" font-size="17" fill="#404040" text-anchor="end">jan-10</text>
<text transform="translate(102.95,266) rotate(-90) scale(1.08,1)" x="0" y="0" font-size="17" fill="#404040" text-anchor="end">abr-10</text>
<text transform="translate(127.77,266) rotate(-90) scale(1.08,1)" x="0" y="0" font-size="17" fill="#404040" text-anchor="end">jul-10</text>
<text transform="translate(152.59,266) rotate(-90) scale(1.08,1)" x="0" y="0" font-size="17" fill="#404040" text-anchor="end">out-10</text>
<text transform="translate(177.41,266) rotate(-90) scale(1.08,1)" x="0" y="0" font-size="17" fill="#404040" text-anchor="end">jan-11</text>
<text transform="translate(202.23,266) rotate(-90) scale(1.08,1)" x="0" y="0" font-size="17" fill="#404040" text-anchor="end">abr-11</text>
<text transform="translate(227.05,266) rotate(-90) scale(1.08,1)" x="0" y="0" font-size="17" fill="#404040" text-anchor="end">jul-11</text>
<text transform="translate(251.86,266) rotate(-90) scale(1.08,1)" x="0" y="0" font-size="17" fill="#404040" text-anchor="end">out-11</text>
<text transform="translate(276.68,266) rotate(-90) scale(1.08,1)" x="0" y="0" font-size="17" fill="#404040" text-anchor="end">jan-12</text>
<text transform="translate(301.50,266) rotate(-90) scale(1.08,1)" x="0" y="0" font-size="17" fill="#404040" text-anchor="end">abr-12</text>
<text transform="translate(326.32,266) rotate(-90) scale(1.08,1)" x="0" y="0" font-size="17" fill="#404040" text-anchor="end">jul-12</text>
<text transform="translate(351.14,266) rotate(-90) scale(1.08,1)" x="0" y="0" font-size="17" fill="#404040" text-anchor="end">out-12</text>
<text transform="translate(375.95,266) rotate(-90) scale(1.08,1)" x="0" y="0" font-size="17" fill="#404040" text-anchor="end">jan-13</text>
<text transform="translate(400.77,266) rotate(-90) scale(1.08,1)" x="0" y="0" font-size="17" fill="#404040" text-anchor="end">abr-13</text>
<text transform="translate(425.59,266) rotate(-90) scale(1.08,1)" x="0" y="0" font-size="17" fill="#404040" text-anchor="end">jul-13</text>
<text transform="translate(450.41,266) rotate(-90) scale(1.08,1)" x="0" y="0" font-size="17" fill="#404040" text-anchor="end">out-13</text>
<text transform="translate(475.23,266) rotate(-90) scale(1.08,1)" x="0" y="0" font-size="17" fill="#404040" text-anchor="end">jan-14</text>
<text transform="translate(500.05,266) rotate(-90) scale(1.08,1)" x="0" y="0" font-size="17" fill="#404040" text-anchor="end">abr-14</text>
<text transform="translate(524.86,266) rotate(-90) scale(1.08,1)" x="0" y="0" font-size="17" fill="#404040" text-anchor="end">jul-14</text>
<text transform="translate(549.68,266) rotate(-90) scale(1.08,1)" x="0" y="0" font-size="17" fill="#404040" text-anchor="end">out-14</text>
<text transform="translate(574.50,266) rotate(-90) scale(1.08,1)" x="0" y="0" font-size="17" fill="#404040" text-anchor="end">jan-15</text>
<text transform="translate(599.32,266) rotate(-90) scale(1.08,1)" x="0" y="0" font-size="17" fill="#404040" text-anchor="end">abr-15</text>
<text transform="translate(624.14,266) rotate(-90) scale(1.08,1)" x="0" y="0" font-size="17" fill="#404040" text-anchor="end">jul-15</text>
<text transform="translate(648.95,266) rotate(-90) scale(1.08,1)" x="0" y="0" font-size="17" fill="#404040" text-anchor="end">out-15</text>
<text transform="translate(673.77,266) rotate(-90) scale(1.08,1)" x="0" y="0" font-size="17" fill="#404040" text-anchor="end">jan-16</text>
<text transform="translate(698.59,266) rotate(-90) scale(1.08,1)" x="0" y="0" font-size="17" fill="#404040" text-anchor="end">abr-16</text>
<text transform="translate(723.41,266) rotate(-90) scale(1.08,1)" x="0" y="0" font-size="17" fill="#404040" text-anchor="end">jul-16</text>
<text transform="translate(748.23,266) rotate(-90) scale(1.08,1)" x="0" y="0" font-size="17" fill="#404040" text-anchor="end">out-16</text>
<text transform="translate(773.05,266) rotate(-90) scale(1.08,1)" x="0" y="0" font-size="17" fill="#404040" text-anchor="end">jan-17</text>
<text transform="translate(797.86,266) rotate(-90) scale(1.08,1)" x="0" y="0" font-size="17" fill="#404040" text-anchor="end">abr-17</text>
<text transform="translate(822.68,266) rotate(-90) scale(1.08,1)" x="0" y="0" font-size="17" fill="#404040" text-anchor="end">jul-17</text>
<text transform="translate(847.50,266) rotate(-90) scale(1.08,1)" x="0" y="0" font-size="17" fill="#404040" text-anchor="end">out-17</text>
<text transform="translate(872.32,266) rotate(-90) scale(1.08,1)" x="0" y="0" font-size="17" fill="#404040" text-anchor="end">jan-18</text>
<text transform="translate(897.14,266) rotate(-90) scale(1.08,1)" x="0" y="0" font-size="17" fill="#404040" text-anchor="end">abr-18</text>
<text transform="translate(921.95,266) rotate(-90) scale(1.08,1)" x="0" y="0" font-size="17" fill="#404040" text-anchor="end">jul-18</text>
<text transform="translate(946.77,266) rotate(-90) scale(1.08,1)" x="0" y="0" font-size="17" fill="#404040" text-anchor="end">out-18</text>
<text transform="translate(971.59,266) rotate(-90) scale(1.08,1)" x="0" y="0" font-size="17" fill="#404040" text-anchor="end">jan-19</text>
<text transform="translate(996.41,266) rotate(-90) scale(1.08,1)" x="0" y="0" font-size="17" fill="#404040" text-anchor="end">abr-19</text>
<text transform="translate(1021.23,266) rotate(-90) scale(1.08,1)" x="0" y="0" font-size="17" fill="#404040" text-anchor="end">jul-19</text>
<text transform="translate(1046.05,266) rotate(-90) scale(1.08,1)" x="0" y="0" font-size="17" fill="#404040" text-anchor="end">out-19</text>
<text transform="translate(1070.86,266) rotate(-90) scale(1.08,1)" x="0" y="0" font-size="17" fill="#404040" text-anchor="end">jan-20</text>
<text transform="translate(1095.68,266) rotate(-90) scale(1.08,1)" x="0" y="0" font-size="17" fill="#404040" text-anchor="end">abr-20</text>
<text transform="translate(1120.50,266) rotate(-90) scale(1.08,1)" x="0" y="0" font-size="17" fill="#404040" text-anchor="end">jul-20</text>
<text transform="translate(1145.32,266) rotate(-90) scale(1.08,1)" x="0" y="0" font-size="17" fill="#404040" text-anchor="end">out-20</text>
<polyline points="72.14,223.16 80.41,214.50 88.68,210.92 96.95,214.50 105.23,204.35 113.50,204.95 121.77,218.68 130.05,219.58 138.32,226.44 146.59,235.70 154.86,239.58 163.14,244.65 171.41,269.13 179.68,267.64 187.95,269.73 196.23,276.00 204.50,288.23 212.77,300.77 221.05,304.05 229.32,310.32 237.59,327.93 245.86,342.86 254.14,353.01 262.41,362.86 270.68,349.72 278.95,351.81 287.23,367.93 295.50,381.37 303.77,374.50 312.05,375.10 320.32,378.08 328.59,372.41 336.86,366.74 345.14,363.16 353.41,362.86 361.68,365.55 369.95,350.62 378.23,342.86 386.50,322.26 394.77,306.44 403.05,299.88 411.32,290.62 419.59,283.46 427.86,276.29 436.14,264.95 444.41,255.40 452.68,239.88 460.95,232.41 469.23,238.98 477.50,247.34 485.77,248.53 494.05,237.79 502.32,241.67 510.59,238.68 518.86,235.40 527.14,237.49 535.41,243.16 543.68,235.40 551.95,242.26 560.23,236.00 568.50,229.73 576.77,216.89 585.05,212.12 593.32,205.85 601.59,202.86 609.86,200.18 618.14,199.88 626.41,210.32 634.68,202.86 642.95,204.95 651.23,214.21 659.50,210.32 667.77,210.32 676.05,211.22 684.32,213.61 692.59,216.00 700.86,219.58 709.14,216.00 717.41,209.43 725.68,199.88 733.95,194.80 742.23,181.07 750.50,157.79 758.77,149.13 767.05,156.30 775.32,149.13 783.59,135.10 791.86,133.61 800.14,127.94 808.41,133.31 816.68,133.91 824.95,133.91 833.23,135.40 841.50,145.55 849.77,148.24 858.05,150.33 866.32,156.59 874.59,163.16 882.86,160.77 891.14,165.55 899.41,159.88 907.68,167.34 915.95,174.80 924.23,181.37 932.50,177.49 940.77,175.70 949.05,186.15 957.32,192.41 965.59,175.70 973.86,177.49 982.14,171.52 990.41,159.58 998.68,169.13 1006.95,164.95 1015.23,161.37 1023.50,164.36 1031.77,171.82 1040.05,166.15 1048.32,168.53 1056.59,174.50 1064.86,190.33 1073.14,216.29 1081.41,302.86 1089.68,407.33" fill="none" stroke="#c0504d" stroke-width="6" stroke-linejoin="round" stroke-linecap="round"/>
<path d="M72.14,218.56 L75.94,223.16 L72.14,227.76 L68.34,223.16Z" fill="#c0504d"/>
<path d="M80.41,209.90 L84.21,214.50 L80.41,219.10 L76.61,214.50Z" fill="#c0504d"/>
<path d="M88.68,206.32 L92.48,210.92 L88.68,215.52 L84.88,210.92Z" fill="#c0504d"/>
<path d="M96.95,209.90 L100.75,214.50 L96.95,219.10 L93.15,214.50Z" fill="#c0504d"/>
<path d="M105.23,199.75 L109.03,204.35 L105.23,208.95 L101.43,204.35Z" fill="#c0504d"/>
<path d="M113.50,200.35 L117.30,204.95 L113.50,209.55 L109.70,204.95Z" fill="#c0504d"/>
<path d="M121.77,214.08 L125.57,218.68 L121.77,223.28 L117.97,218.68Z" fill="#c0504d"/>
<path d="M130.05,214.98 L133.85,219.58 L130.05,224.18 L126.25,219.58Z" fill="#c0504d"/>
<path d="M138.32,221.84 L142.12,226.44 L138.32,231.04 L134.52,226.44Z" fill="#c0504d"/>
<path d="M146.59,231.10 L150.39,235.70 L146.59,240.30 L142.79,235.70Z" fill="#c0504d"/>
<path d="M154.86,234.98 L158.66,239.58 L154.86,244.18 L151.06,239.58Z" fill="#c0504d"/>
<path d="M163.14,240.05 L166.94,244.65 L163.14,249.25 L159.34,244.65Z" fill="#c0504d"/>
<path d="M171.41,264.53 L175.21,269.13 L171.41,273.73 L167.61,269.13Z" fill="#c0504d"/>
<path d="M179.68,263.04 L183.48,267.64 L179.68,272.24 L175.88,267.64Z" fill="#c0504d"/>
<path d="M187.95,265.13 L191.75,269.73 L187.95,274.33 L184.15,269.73Z" fill="#c0504d"/>
<path d="M196.23,271.39 L200.03,276.00 L196.23,280.60 L192.43,276.00Z" fill="#c0504d"/>
<path d="M204.50,283.63 L208.30,288.23 L204.50,292.83 L200.70,288.23Z" fill="#c0504d"/>
<path d="M212.77,296.17 L216.57,300.77 L212.77,305.37 L208.97,300.77Z" fill="#c0504d"/>
<path d="M221.05,299.45 L224.85,304.05 L221.05,308.65 L217.25,304.05Z" fill="#c0504d"/>
<path d="M229.32,305.72 L233.12,310.32 L229.32,314.92 L225.52,310.32Z" fill="#c0504d"/>
<path d="M237.59,323.33 L241.39,327.93 L237.59,332.53 L233.79,327.93Z" fill="#c0504d"/>
<path d="M245.86,338.26 L249.66,342.86 L245.86,347.46 L242.06,342.86Z" fill="#c0504d"/>
<path d="M254.14,348.41 L257.94,353.01 L254.14,357.61 L250.34,353.01Z" fill="#c0504d"/>
<path d="M262.41,358.26 L266.21,362.86 L262.41,367.46 L258.61,362.86Z" fill="#c0504d"/>
<path d="M270.68,345.12 L274.48,349.72 L270.68,354.32 L266.88,349.72Z" fill="#c0504d"/>
<path d="M278.95,347.21 L282.75,351.81 L278.95,356.41 L275.15,351.81Z" fill="#c0504d"/>
<path d="M287.23,363.33 L291.03,367.93 L287.23,372.53 L283.43,367.93Z" fill="#c0504d"/>
<path d="M295.50,376.77 L299.30,381.37 L295.50,385.97 L291.70,381.37Z" fill="#c0504d"/>
<path d="M303.77,369.90 L307.57,374.50 L303.77,379.10 L299.97,374.50Z" fill="#c0504d"/>
<path d="M312.05,370.50 L315.85,375.10 L312.05,379.70 L308.25,375.10Z" fill="#c0504d"/>
<path d="M320.32,373.48 L324.12,378.08 L320.32,382.68 L316.52,378.08Z" fill="#c0504d"/>
<path d="M328.59,367.81 L332.39,372.41 L328.59,377.01 L324.79,372.41Z" fill="#c0504d"/>
<path d="M336.86,362.14 L340.66,366.74 L336.86,371.34 L333.06,366.74Z" fill="#c0504d"/>
<path d="M345.14,358.56 L348.94,363.16 L345.14,367.76 L341.34,363.16Z" fill="#c0504d"/>
<path d="M353.41,358.26 L357.21,362.86 L353.41,367.46 L349.61,362.86Z" fill="#c0504d"/>
<path d="M361.68,360.94 L365.48,365.55 L361.68,370.15 L357.88,365.55Z" fill="#c0504d"/>
<path d="M369.95,346.02 L373.75,350.62 L369.95,355.22 L366.15,350.62Z" fill="#c0504d"/>
<path d="M378.23,338.26 L382.03,342.86 L378.23,347.46 L374.43,342.86Z" fill="#c0504d"/>
<path d="M386.50,317.66 L390.30,322.26 L386.50,326.86 L382.70,322.26Z" fill="#c0504d"/>
<path d="M394.77,301.84 L398.57,306.44 L394.77,311.04 L390.97,306.44Z" fill="#c0504d"/>
<path d="M403.05,295.27 L406.85,299.88 L403.05,304.48 L399.25,299.88Z" fill="#c0504d"/>
<path d="M411.32,286.02 L415.12,290.62 L411.32,295.22 L407.52,290.62Z" fill="#c0504d"/>
<path d="M419.59,278.86 L423.39,283.46 L419.59,288.06 L415.79,283.46Z" fill="#c0504d"/>
<path d="M427.86,271.69 L431.66,276.29 L427.86,280.89 L424.06,276.29Z" fill="#c0504d"/>
<path d="M436.14,260.35 L439.94,264.95 L436.14,269.55 L432.34,264.95Z" fill="#c0504d"/>
<path d="M444.41,250.80 L448.21,255.40 L444.41,260.00 L440.61,255.40Z" fill="#c0504d"/>
<path d="M452.68,235.28 L456.48,239.88 L452.68,244.48 L448.88,239.88Z" fill="#c0504d"/>
<path d="M460.95,227.81 L464.75,232.41 L460.95,237.01 L457.15,232.41Z" fill="#c0504d"/>
<path d="M469.23,234.38 L473.03,238.98 L469.23,243.58 L465.43,238.98Z" fill="#c0504d"/>
<path d="M477.50,242.74 L481.30,247.34 L477.50,251.94 L473.70,247.34Z" fill="#c0504d"/>
<path d="M485.77,243.93 L489.57,248.53 L485.77,253.13 L481.97,248.53Z" fill="#c0504d"/>
<path d="M494.05,233.19 L497.85,237.79 L494.05,242.39 L490.25,237.79Z" fill="#c0504d"/>
<path d="M502.32,237.07 L506.12,241.67 L502.32,246.27 L498.52,241.67Z" fill="#c0504d"/>
<path d="M510.59,234.08 L514.39,238.68 L510.59,243.28 L506.79,238.68Z" fill="#c0504d"/>
<path d="M518.86,230.80 L522.66,235.40 L518.86,240.00 L515.06,235.40Z" fill="#c0504d"/>
<path d="M527.14,232.89 L530.94,237.49 L527.14,242.09 L523.34,237.49Z" fill="#c0504d"/>
<path d="M535.41,238.56 L539.21,243.16 L535.41,247.76 L531.61,243.16Z" fill="#c0504d"/>
<path d="M543.68,230.80 L547.48,235.40 L543.68,240.00 L539.88,235.40Z" fill="#c0504d"/>
<path d="M551.95,237.66 L555.75,242.26 L551.95,246.86 L548.15,242.26Z" fill="#c0504d"/>
<path d="M560.23,231.40 L564.03,236.00 L560.23,240.60 L556.43,236.00Z" fill="#c0504d"/>
<path d="M568.50,225.13 L572.30,229.73 L568.50,234.33 L564.70,229.73Z" fill="#c0504d"/>
<path d="M576.77,212.29 L580.57,216.89 L576.77,221.49 L572.97,216.89Z" fill="#c0504d"/>
<path d="M585.05,207.52 L588.85,212.12 L585.05,216.72 L581.25,212.12Z" fill="#c0504d"/>
<path d="M593.32,201.25 L597.12,205.85 L593.32,210.45 L589.52,205.85Z" fill="#c0504d"/>
<path d="M601.59,198.26 L605.39,202.86 L601.59,207.46 L597.79,202.86Z" fill="#c0504d"/>
<path d="M609.86,195.58 L613.66,200.18 L609.86,204.78 L606.06,200.18Z" fill="#c0504d"/>
<path d="M618.14,195.28 L621.94,199.88 L618.14,204.48 L614.34,199.88Z" fill="#c0504d"/>
<path d="M626.41,205.72 L630.21,210.32 L626.41,214.92 L622.61,210.32Z" fill="#c0504d"/>
<path d="M634.68,198.26 L638.48,202.86 L634.68,207.46 L630.88,202.86Z" fill="#c0504d"/>
<path d="M642.95,200.35 L646.75,204.95 L642.95,209.55 L639.15,204.95Z" fill="#c0504d"/>
<path d="M651.23,209.61 L655.03,214.21 L651.23,218.81 L647.43,214.21Z" fill="#c0504d"/>
<path d="M659.50,205.72 L663.30,210.32 L659.50,214.92 L655.70,210.32Z" fill="#c0504d"/>
<path d="M667.77,205.72 L671.57,210.32 L667.77,214.92 L663.97,210.32Z" fill="#c0504d"/>
<path d="M676.05,206.62 L679.85,211.22 L676.05,215.82 L672.25,211.22Z" fill="#c0504d"/>
<path d="M684.32,209.01 L688.12,213.61 L684.32,218.21 L680.52,213.61Z" fill="#c0504d"/>
<path d="M692.59,211.40 L696.39,216.00 L692.59,220.60 L688.79,216.00Z" fill="#c0504d"/>
<path d="M700.86,214.98 L704.66,219.58 L700.86,224.18 L697.06,219.58Z" fill="#c0504d"/>
<path d="M709.14,211.40 L712.94,216.00 L709.14,220.60 L705.34,216.00Z" fill="#c0504d"/>
<path d="M717.41,204.83 L721.21,209.43 L717.41,214.03 L713.61,209.43Z" fill="#c0504d"/>
<path d="M725.68,195.28 L729.48,199.88 L725.68,204.48 L721.88,199.88Z" fill="#c0504d"/>
<path d="M733.95,190.20 L737.75,194.80 L733.95,199.40 L730.15,194.80Z" fill="#c0504d"/>
<path d="M742.23,176.47 L746.03,181.07 L742.23,185.67 L738.43,181.07Z" fill="#c0504d"/>
<path d="M750.50,153.19 L754.30,157.79 L750.50,162.39 L746.70,157.79Z" fill="#c0504d"/>
<path d="M758.77,144.53 L762.57,149.13 L758.77,153.73 L754.97,149.13Z" fill="#c0504d"/>
<path d="M767.05,151.70 L770.85,156.30 L767.05,160.90 L763.25,156.30Z" fill="#c0504d"/>
<path d="M775.32,144.53 L779.12,149.13 L775.32,153.73 L771.52,149.13Z" fill="#c0504d"/>
<path d="M783.59,130.50 L787.39,135.10 L783.59,139.70 L779.79,135.10Z" fill="#c0504d"/>
<path d="M791.86,129.01 L795.66,133.61 L791.86,138.21 L788.06,133.61Z" fill="#c0504d"/>
<path d="M800.14,123.34 L803.94,127.94 L800.14,132.54 L796.34,127.94Z" fill="#c0504d"/>
<path d="M808.41,128.71 L812.21,133.31 L808.41,137.91 L804.61,133.31Z" fill="#c0504d"/>
<path d="M816.68,129.31 L820.48,133.91 L816.68,138.51 L812.88,133.91Z" fill="#c0504d"/>
<path d="M824.95,129.31 L828.75,133.91 L824.95,138.51 L821.15,133.91Z" fill="#c0504d"/>
<path d="M833.23,130.80 L837.03,135.40 L833.23,140.00 L829.43,135.40Z" fill="#c0504d"/>
<path d="M841.50,140.95 L845.30,145.55 L841.50,150.15 L837.70,145.55Z" fill="#c0504d"/>
<path d="M849.77,143.64 L853.57,148.24 L849.77,152.84 L845.97,148.24Z" fill="#c0504d"/>
<path d="M858.05,145.73 L861.85,150.33 L858.05,154.93 L854.25,150.33Z" fill="#c0504d"/>
<path d="M866.32,152.00 L870.12,156.59 L866.32,161.19 L862.52,156.59Z" fill="#c0504d"/>
<path d="M874.59,158.56 L878.39,163.16 L874.59,167.76 L870.79,163.16Z" fill="#c0504d"/>
<path d="M882.86,156.17 L886.66,160.77 L882.86,165.37 L879.06,160.77Z" fill="#c0504d"/>
<path d="M891.14,160.95 L894.94,165.55 L891.14,170.15 L887.34,165.55Z" fill="#c0504d"/>
<path d="M899.41,155.28 L903.21,159.88 L899.41,164.48 L895.61,159.88Z" fill="#c0504d"/>
<path d="M907.68,162.74 L911.48,167.34 L907.68,171.94 L903.88,167.34Z" fill="#c0504d"/>
<path d="M915.95,170.20 L919.75,174.80 L915.95,179.40 L912.15,174.80Z" fill="#c0504d"/>
<path d="M924.23,176.77 L928.03,181.37 L924.23,185.97 L920.43,181.37Z" fill="#c0504d"/>
<path d="M932.50,172.89 L936.30,177.49 L932.50,182.09 L928.70,177.49Z" fill="#c0504d"/>
<path d="M940.77,171.10 L944.57,175.70 L940.77,180.30 L936.97,175.70Z" fill="#c0504d"/>
<path d="M949.05,181.55 L952.85,186.15 L949.05,190.75 L945.25,186.15Z" fill="#c0504d"/>
<path d="M957.32,187.81 L961.12,192.41 L957.32,197.01 L953.52,192.41Z" fill="#c0504d"/>
<path d="M965.59,171.10 L969.39,175.70 L965.59,180.30 L961.79,175.70Z" fill="#c0504d"/>
<path d="M973.86,172.89 L977.66,177.49 L973.86,182.09 L970.06,177.49Z" fill="#c0504d"/>
<path d="M982.14,166.92 L985.94,171.52 L982.14,176.12 L978.34,171.52Z" fill="#c0504d"/>
<path d="M990.41,154.98 L994.21,159.58 L990.41,164.18 L986.61,159.58Z" fill="#c0504d"/>
<path d="M998.68,164.53 L1002.48,169.13 L998.68,173.73 L994.88,169.13Z" fill="#c0504d"/>
<path d="M1006.95,160.35 L1010.75,164.95 L1006.95,169.55 L1003.15,164.95Z" fill="#c0504d"/>
<path d="M1015.23,156.77 L1019.03,161.37 L1015.23,165.97 L1011.43,161.37Z" fill="#c0504d"/>
<path d="M1023.50,159.76 L1027.30,164.36 L1023.50,168.96 L1019.70,164.36Z" fill="#c0504d"/>
<path d="M1031.77,167.22 L1035.57,171.82 L1031.77,176.42 L1027.97,171.82Z" fill="#c0504d"/>
<path d="M1040.05,161.55 L1043.85,166.15 L1040.05,170.75 L1036.25,166.15Z" fill="#c0504d"/>
<path d="M1048.32,163.94 L1052.12,168.53 L1048.32,173.13 L1044.52,168.53Z" fill="#c0504d"/>
<path d="M1056.59,169.91 L1060.39,174.50 L1056.59,179.10 L1052.79,174.50Z" fill="#c0504d"/>
<path d="M1064.86,185.73 L1068.66,190.33 L1064.86,194.93 L1061.06,190.33Z" fill="#c0504d"/>
<path d="M1073.14,211.69 L1076.94,216.29 L1073.14,220.89 L1069.34,216.29Z" fill="#c0504d"/>
<path d="M1081.41,298.26 L1085.21,302.86 L1081.41,307.46 L1077.61,302.86Z" fill="#c0504d"/>
<path d="M1089.68,402.73 L1093.48,407.33 L1089.68,411.94 L1085.88,407.33Z" fill="#c0504d"/>
<rect x="80.8" y="76.2" width="279.3" height="24.8" fill="#fff" stroke="#888" stroke-width="1.5"/>
<rect x="117.2" y="82.2" width="48.8" height="13.2" fill="#c8c8c8" stroke="#7f7f7f" stroke-width="1.5"/>
<text x="171.5" y="95.2" font-size="19.8" font-weight="bold" fill="#262626" textLength="54" lengthAdjust="spacingAndGlyphs">vhPIB</text>
<line x1="261" x2="310" y1="88.8" y2="88.8" stroke="#c0504d" stroke-width="6" stroke-linecap="round"/>
<path d="M285.1,84.1 L288.5,88.8 L285.1,93.3 L281.7,88.8Z" fill="#c0504d"/>
<text x="316.2" y="95.2" font-size="19.5" font-weight="bold" fill="#262626" textLength="15.8" lengthAdjust="spacingAndGlyphs">IZ</text>
</svg></body></html>
